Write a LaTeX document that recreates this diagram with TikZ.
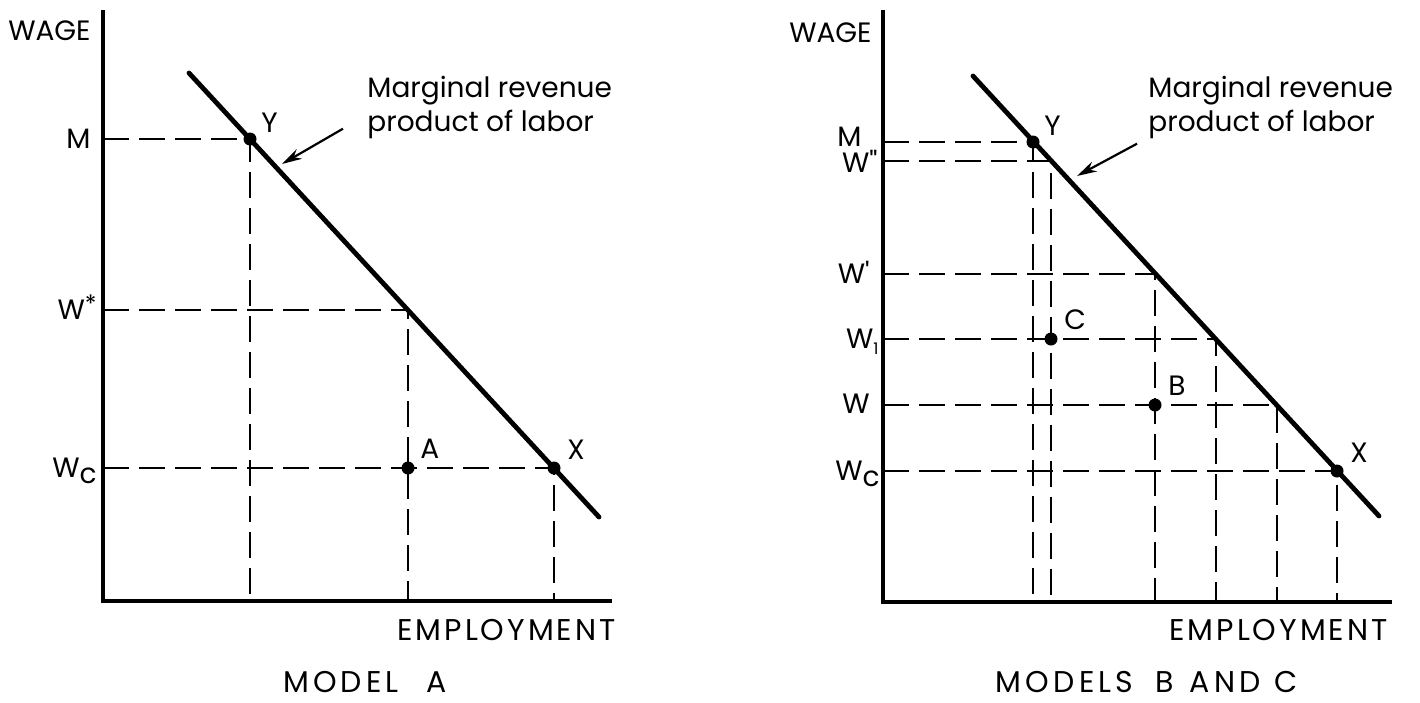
\documentclass[tikz,border=0pt]{standalone}
\usepackage{fontspec}
\setmainfont{Poppins}
\newfontfamily\capsfont[LetterSpace=10]{Poppins}
\newfontfamily\titlefont[LetterSpace=14]{Poppins}
\usetikzlibrary{positioning, arrows.meta}

\tikzset{
  axisline/.style={line width=2pt},
  mrpline/.style={line width=2.4pt, line cap=round},
  guide/.style={line width=1.4pt, dash pattern=on 13pt off 5pt},
  dot/.style={circle, fill=black, inner sep=0pt, minimum size=6.5pt},
  lbl/.style={font=\fontsize{14}{17}\selectfont, inner sep=0pt},
  caps/.style={font=\capsfont\fontsize{15}{17}\selectfont, inner sep=0pt},
  title/.style={font=\titlefont\fontsize{15}{17}\selectfont, inner sep=0pt},
  pointer/.style={line width=1.1pt, -{Stealth[length=10pt, width=5.5pt]}},
}
\newcommand{\Wsub}[1]{W\raisebox{-0.45ex}{#1}}

\begin{document}
\begin{tikzpicture}[x=0.5pt, y=-0.5pt]
\useasboundingbox (0,0) rectangle (1420,702);

% Model A
\coordinate (OA) at (103,601);
\coordinate (topA) at (103,10);
\coordinate (endA) at (612,601);
\coordinate (mrpA1) at (189,73);
\coordinate (mrpA2) at (599,517);
\coordinate (mA) at (103,139);
\coordinate (wsA) at (103,310);
\coordinate (wcA) at (103,468);
\coordinate (cutA) at (408,310);
\coordinate (tipA) at (282,164);
\node[dot] (YA) at (250,139) {};
\node[dot] (XA) at (554,468) {};
\node[dot] (ptA) at (408,468) {};

\draw[guide] (mA) -- (YA.center) -- (YA |- OA);
\draw[guide] (wsA) -- (cutA) -- (cutA |- OA);
\draw[guide] (wcA) -- (XA.center) -- (XA |- OA);
\draw[axisline] (topA) -- (OA) -- (endA);
\draw[mrpline] (mrpA1) -- (mrpA2);

\node[lbl, anchor=base east] (wageA) at (91,40) {WAGE};
\node[lbl, anchor=base east] (labMA) at (91,148) {M};
\node[lbl, anchor=base east] (labWsA) at (97,319) {W\raisebox{0.45ex}{\large *}};
\node[lbl, anchor=base east] (labWcA) at (97,477) {\Wsub{c}};
\node[lbl, above right=0.5pt and 3pt of YA] (labYA) {Y};
\node[lbl, above right=1.5pt and 4pt of XA] (labXA) {X};
\node[lbl, above right=2pt and 3.5pt of ptA] (labA) {A};
\node[lbl, anchor=north west, align=left] (mrpA) at (367,76) {Marginal revenue\\product of labor};
\draw[pointer] ([shift={(-12pt,-10.5pt)}]mrpA.west) -- (tipA);
\node[caps, anchor=north east] (empA) at (616,619) {EMPLOYMENT};
\node[title] (capA) at (365,682) {MODEL\hspace{14pt}A};

% Models B and C
\coordinate (OB) at (883,602);
\coordinate (topB) at (883,10);
\coordinate (endB) at (1392,602);
\coordinate (mrpB1) at (973,76);
\coordinate (mrpB2) at (1379,516);
\coordinate (mB) at (883,142);
\coordinate (w2B) at (883,161);
\coordinate (w1B) at (883,274);
\coordinate (wiB) at (883,339);
\coordinate (wB) at (883,405);
\coordinate (wcB) at (883,471);
\coordinate (cut2B) at (1051,161);
\coordinate (cut1B) at (1155,274);
\coordinate (cutiB) at (1216,339);
\coordinate (cutB) at (1277,405);
\coordinate (tipB) at (1077,176);
\node[dot] (YB) at (1033,142) {};
\node[dot] (XB) at (1337,471) {};
\node[dot] (ptC) at (1051,339) {};
\node[dot] (ptB) at (1155,405) {};

\draw[guide] (mB) -- (YB.center) -- (YB |- OB);
\draw[guide] (w2B) -- (cut2B) -- (cut2B |- OB);
\draw[guide] (w1B) -- (cut1B) -- (cut1B |- OB);
\draw[guide] (wiB) -- (cutiB) -- (cutiB |- OB);
\draw[guide] (wB) -- (cutB) -- (cutB |- OB);
\draw[guide] (wcB) -- (XB.center) -- (XB |- OB);
\draw[axisline] (topB) -- (OB) -- (endB);
\draw[mrpline] (mrpB1) -- (mrpB2);

\node[lbl, anchor=base east] (wageB) at (872,42) {WAGE};
\node[lbl, anchor=base east] (labMB) at (862,146) {M};
\node[lbl, anchor=base east] (labW2B) at (878,172) {W\textquotedbl};
\node[lbl, anchor=base east] (labW1B) at (870,283) {W\textquotesingle};
\node[lbl, anchor=base east] (labWiB) at (879,348) {\Wsub{\footnotesize 1}};
\node[lbl, anchor=base east] (labWB) at (870,413) {W};
\node[lbl, anchor=base east] (labWcB) at (880,480) {\Wsub{c}};
\node[lbl, above right=0.5pt and 3pt of YB] (labYB) {Y};
\node[lbl, above right=1.5pt and 4pt of XB] (labXB) {X};
\node[lbl, above right=2pt and 4pt of ptC] (labC) {C};
\node[lbl, above right=2pt and 4pt of ptB] (labB) {B};
\node[lbl, anchor=north west, align=left] (mrpB) at (1148,76) {Marginal revenue\\product of labor};
\draw[pointer] ([shift={(-5.5pt,-18pt)}]mrpB.west) -- (tipB);
\node[caps, anchor=north east] (empB) at (1388,619) {EMPLOYMENT};
\node[title] (capB) at (1147,682) {MODELS\hspace{11pt}B\hspace{8pt}AND\hspace{7pt}C};
\end{tikzpicture}
\end{document}
